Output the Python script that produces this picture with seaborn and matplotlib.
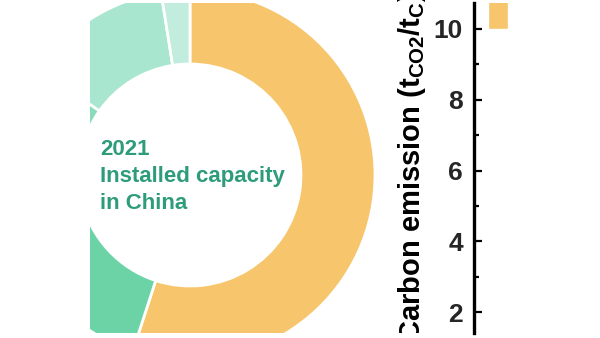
import matplotlib
matplotlib.use("Agg")
import matplotlib.pyplot as plt
import seaborn as sns
import pandas as pd
from matplotlib.ticker import MultipleLocator
from matplotlib.transforms import Bbox

# ---- data -------------------------------------------------------------
sources = ["Thermal", "Hydro", "Wind", "Solar", "Nuclear"]
share_2021 = [55.0, 16.3, 13.5, 12.7, 2.5]          # % of installed capacity
source_colors = ["#F6C56C", "#6BD3A6", "#8ADBB9", "#A9E6D0", "#C2EDDE"]

bar_groups = ["Thermal"]
bar_base = [10.0]
bar_top = [11.2]
bar_color = "#F6C56C"
yticks = [2, 4, 6, 8, 10]

center_text = "2021\nInstalled capacity\nin China"
text_color = "#2E9C7A"
ylabel = "Carbon emission (t$_{CO2}$/t$_{C}$)"

# ---- style ------------------------------------------------------------
sns.set_theme(style="white")
plt.rcParams["font.family"] = ["Liberation Sans", "DejaVu Sans"]
plt.rcParams["mathtext.fontset"] = "custom"
plt.rcParams["mathtext.rm"] = "Liberation Sans:bold"
plt.rcParams["mathtext.bf"] = "Liberation Sans:bold"
plt.rcParams["mathtext.default"] = "bf"

W, H = 600, 338
fig = plt.figure(figsize=(6, 3.38), dpi=100)


def px_axes(x0, y0, x1, y1):
    return fig.add_axes([x0 / W, (H - y1) / H, (x1 - x0) / W, (y1 - y0) / H])


# ---- donut -------------------------------------------------------------
top_px, bot_px = 3, 333
ax1 = px_axes(90, top_px, 390, bot_px)
cx, cy, R = 190, 175, 185
wedges, _ = ax1.pie(share_2021, colors=source_colors, startangle=90,
                    counterclock=False, radius=1.0,
                    wedgeprops=dict(width=0.4, edgecolor="white", linewidth=2))
for w in wedges:
    w.set_clip_on(True)
    w.set_clip_path(ax1.patch)
ax1.set_aspect("auto")
ax1.set_xlim((90 - cx) / R, (390 - cx) / R)
ax1.set_ylim(-(bot_px - cy) / R, (cy - top_px) / R)
ax1.axis("off")
ax1.text((100 - cx) / R, (cy - 139) / R, center_text, color=text_color,
         fontsize=16, fontweight="bold", ha="left", va="top", linespacing=1.36)

# ---- bar panel ---------------------------------------------------------
ax2 = px_axes(474, top_px, 600, bot_px)
df = pd.DataFrame({"group": bar_groups,
                   "height": [t - b for t, b in zip(bar_top, bar_base)]})
sns.barplot(data=df, x="group", y="height", color=bar_color, width=0.5,
            bottom=bar_base, saturation=1, ax=ax2)
ax2.set_xlim(-0.6, 2.55)
px_per_unit = (312 - 29) / 8
ax2.set_ylim(2 - (bot_px - 312) / px_per_unit, 10 + (29 - top_px) / px_per_unit)
ax2.set_yticks(yticks)
ax2.yaxis.set_minor_locator(MultipleLocator(1))
for s in ["top", "right", "bottom"]:
    ax2.spines[s].set_visible(False)
ax2.spines["left"].set_linewidth(2.4)
ax2.spines["left"].set_color("black")
ax2.tick_params(axis="y", which="major", left=True, direction="in", length=6,
                width=1.6, color="black", labelsize=19, pad=8)
ax2.tick_params(axis="y", which="minor", left=True, direction="in", length=3.5,
                width=1.6, color="black")
ax2.tick_params(axis="x", bottom=False, labelbottom=False)
ax2.set_xlabel("")
ax2.set_ylabel("")
for lab in ax2.get_yticklabels():
    lab.set_fontweight("bold")

t = fig.text(412 / W, (H - 342) / H, ylabel, rotation=90, ha="center", va="bottom",
             fontsize=21, fontweight="bold", color="black")
t.set_clip_box(Bbox.from_extents(0, H - bot_px, W, H))
t.set_clip_on(True)

fig.savefig("out.png", dpi=100, facecolor="white")
